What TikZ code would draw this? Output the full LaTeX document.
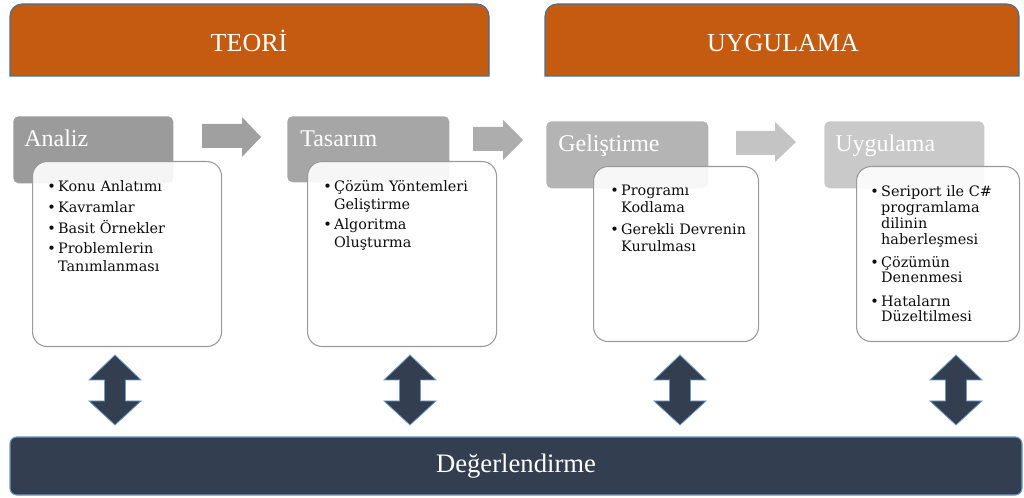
\documentclass[tikz,border=0pt]{standalone}
\usepackage{fontspec}
\setmainfont{Liberation Serif}
\newfontfamily\bulfont{DejaVu Serif}
\definecolor{orng}{HTML}{C55A11}
\definecolor{navy}{HTML}{333F50}
\definecolor{bord}{HTML}{41719C}
\definecolor{glow}{HTML}{6E9CC8}
\definecolor{gA}{HTML}{9B9B9B}
\definecolor{gB}{HTML}{A6A6A6}
\definecolor{gC}{HTML}{B4B4B4}
\definecolor{gD}{HTML}{C9C9C9}
\definecolor{aA}{HTML}{A0A0A0}
\definecolor{aB}{HTML}{ADADAD}
\definecolor{aC}{HTML}{C4C4C4}
\definecolor{boxline}{HTML}{9A9A9A}
\definecolor{txt}{HTML}{0D0D0D}
\begin{document}
\begin{tikzpicture}[x=0.75pt,y=-0.75pt,
  banner/.style={fill=orng,draw=bord,line width=0.8pt},
  bantext/.style={text=white,font=\fontsize{19.5}{22}\selectfont,anchor=base,inner sep=0},
  graybox/.style={rounded corners=4pt,draw=none,anchor=north west,inner sep=0},
  whitebox/.style={draw=boxline,fill=white,fill opacity=0.9,rounded corners=11pt,line width=0.8pt,anchor=north west,inner sep=0},
  title/.style={text=white,font=\fontsize{18}{20}\selectfont,anchor=base west,inner sep=0},
  bul/.style={text=txt,anchor=base west,inner sep=0,align=left,text width=125pt},
  dblarrow/.style={fill=navy,draw=glow,line width=0.6pt,line join=miter},
  evalbar/.style={fill=navy,draw=glow,line width=0.8pt,rounded corners=5pt,text=white,
    font=\fontsize{20}{22}\selectfont,minimum width=759pt,minimum height=43.5pt,inner sep=0}
]
\useasboundingbox (0,0) rectangle (1024,498);

% banners
\path[banner] (10,76) -- (10,16) arc[start angle=180,end angle=90,radius=9pt] -- (477,4)
  arc[start angle=90,end angle=0,radius=9pt] -- (489,76) -- cycle;
\node[bantext] (teori) at (249,52) {TEORİ};
\path[banner] (545,76) -- (545,16) arc[start angle=180,end angle=90,radius=9pt] -- (1007,4)
  arc[start angle=90,end angle=0,radius=9pt] -- (1019,76) -- cycle;
\node[bantext] (uyg) at (783,52) {UYGULAMA};

% gray title boxes
\node[graybox,fill=gA,minimum width=120pt,minimum height=50.25pt] (ga) at (13,116) {};
\node[graybox,fill=gB,minimum width=121.5pt,minimum height=49.5pt] (gb) at (287,116) {};
\node[graybox,fill=gC,minimum width=121.5pt,minimum height=50.25pt] (gc) at (546,121) {};
\node[graybox,fill=gD,minimum width=120pt,minimum height=50.25pt] (gd) at (824,121) {};

\node[title] (ta) at (24,147) {Analiz};
\node[title] (tb) at (300,147) {Tasarım};
\node[title] (tc) at (558,152) {Geliştirme};
\node[title] (td) at (835,152) {Uygulama};

% white boxes
\node[whitebox,minimum width=141.75pt,minimum height=138.75pt] (wa) at (32,161) {};
\node[whitebox,minimum width=141.75pt,minimum height=138.75pt] (wb) at (307,161) {};
\node[whitebox,minimum width=123.75pt,minimum height=131.25pt] (wc) at (593,166) {};
\node[whitebox,minimum width=122.25pt,minimum height=131.25pt] (wd) at (856,166) {};

% bullet texts
\node[bul,font=\bulfont\fontsize{10.8}{13}\selectfont] (la) at (47,192)
  {\textbullet\,Konu Anlatımı\\[2.5pt]\textbullet\,Kavramlar\\[2.5pt]\textbullet\,Basit Örnekler\\[2.5pt]\textbullet\,Problemlerin\\\phantom{\textbullet\,}Tanımlanması};
\node[bul,font=\bulfont\fontsize{10.8}{13}\selectfont] (lb) at (323,192)
  {\textbullet\,Çözüm Yöntemleri\\\phantom{\textbullet\,}Geliştirme\\[2.5pt]\textbullet\,Algoritma\\\phantom{\textbullet\,}Oluşturma};
\node[bul,font=\bulfont\fontsize{10.8}{12.5}\selectfont] (lc) at (610,196)
  {\textbullet\,Programı\\\phantom{\textbullet\,}Kodlama\\[4pt]\textbullet\,Gerekli Devrenin\\\phantom{\textbullet\,}Kurulması};
\node[bul,font=\bulfont\fontsize{10.8}{11.8}\selectfont] (ld) at (870,197)
  {\textbullet\,Seriport ile C\#\\\phantom{\textbullet\,}programlama\\\phantom{\textbullet\,}dilinin\\\phantom{\textbullet\,}haberleşmesi\\[5.5pt]\textbullet\,Çözümün\\\phantom{\textbullet\,}Denenmesi\\[5.5pt]\textbullet\,Hataların\\\phantom{\textbullet\,}Düzeltilmesi};

% horizontal block arrows
\fill[aA] (202,124) -- (242,124) -- (242,117) -- (261,137) -- (242,157) -- (242,148) -- (202,148) -- cycle;
\fill[aB] (473,127) -- (503,127) -- (503,120) -- (523,140) -- (503,160) -- (503,151) -- (473,151) -- cycle;
\fill[aC] (736,131) -- (775,131) -- (775,122) -- (796,142) -- (775,162) -- (775,155) -- (736,155) -- cycle;

% vertical double arrows
\foreach \cx in {115,410,680,956}{
  \path[dblarrow,shift={(\cx,0)}] (0,355) -- (26,380) -- (10.5,380) -- (10.5,401) -- (26,401) -- (0,425)
    -- (-26,401) -- (-10.5,401) -- (-10.5,380) -- (-26,380) -- cycle;
}

% evaluation bar
\node[evalbar] (deg) at (516,466) {Değerlendirme};
\end{tikzpicture}
\end{document}
